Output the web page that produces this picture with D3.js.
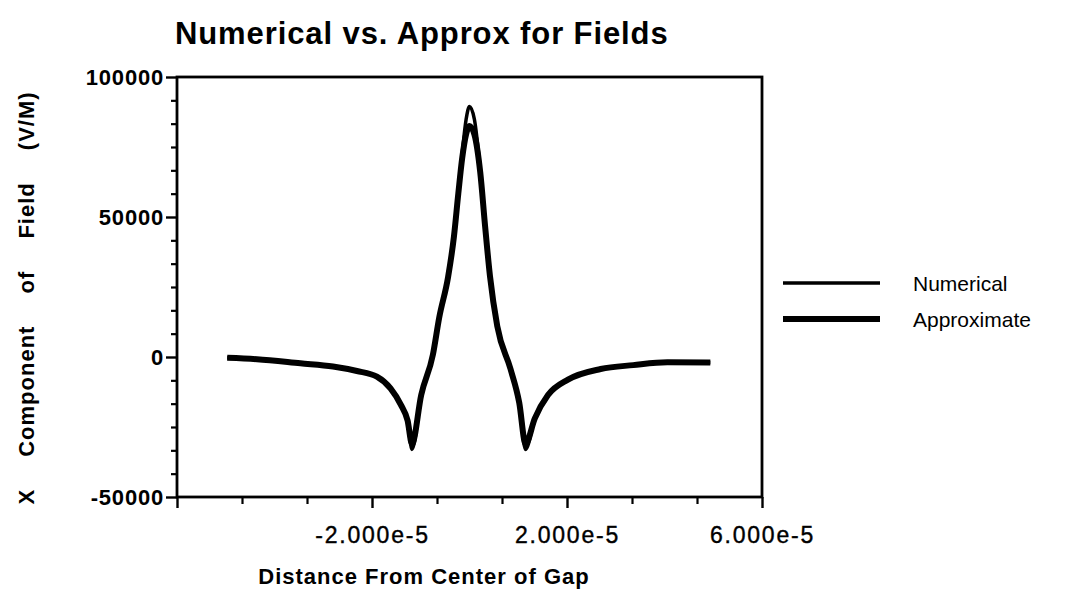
<!DOCTYPE html>
<html>
<head>
<meta charset="utf-8">
<script src="https://cdn.jsdelivr.net/npm/d3@7"></script>
<style>
  html, body { margin: 0; padding: 0; background: #fff; }
  svg { display: block; }
  text { font-family: "Liberation Sans", Arial, Helvetica, sans-serif; fill: #000; }
</style>
</head>
<body>
<svg id="chart" width="1065" height="595"></svg>
<script>
// ---- data ----
const titleText = "Numerical vs. Approx for Fields";
const xTitle = "Distance From Center of Gap";
const yTitle = "X Component of Field (V/M)";
const seriesNames = ["Numerical", "Approximate"];

const distance = [-4.97e-5, -4.36e-5, -3.47e-5, -2.8e-5, -2.31e-5, -1.9e-5, -1.62e-5, -1.41e-5,
  -1.27e-5, -1.18e-5, -0.99e-5, -0.75e-5, -0.62e-5, -0.44e-5, -0.32e-5, -0.23e-5, -0.15e-5,
  -0.07e-5, 0, 0.1e-5, 0.22e-5, 0.32e-5, 0.42e-5, 0.57e-5, 0.84e-5, 1.02e-5, 1.15e-5,
  1.34e-5, 1.61e-5, 2.02e-5, 2.69e-5, 3.36e-5, 4.06e-5, 4.94e-5];

const numerical = [-300, -800, -2250, -3400, -5000, -7000, -11200, -17000,
  -22700, -33000, -13500, 900, 14200, 28500, 42900, 58300, 72600,
  84800, 89500, 84900, 67000, 46700, 28900, 11000, -4200, -16300, -33000,
  -21900, -13600, -8100, -4300, -2900, -1900, -2000];

const approximate = [-300, -800, -2250, -3400, -5000, -7000, -11200, -17000,
  -22700, -31000, -13500, 900, 14200, 28500, 42900, 58300, 71000,
  79500, 82500, 79500, 66000, 46700, 28900, 11000, -4200, -16300, -31000,
  -21900, -13600, -8100, -4300, -2900, -1900, -2000];

const xDomain = [-6e-5, 6e-5];
const yDomain = [-50000, 100000];
const xLabelTicks = [-2e-5, 2e-5, 6e-5];
const xAllTicks = [-6e-5, -4.6667e-5, -3.3333e-5, -2e-5, -0.6667e-5, 0.6667e-5, 2e-5, 3.3333e-5, 4.6667e-5, 6e-5];
const yLabelTicks = [-50000, 0, 50000, 100000];

// ---- layout ----
const L = 177, R = 762, T = 77, B = 497;
const svg = d3.select("#chart");

const x = d3.scaleLinear().domain(xDomain).range([L, R]);
const y = d3.scaleLinear().domain(yDomain).range([B, T]);

const yMinor = d3.range(-50000, 100001, 50000 / 6).filter(v => !yLabelTicks.some(m => Math.abs(m - v) < 1));
const xMinor = xAllTicks.filter(v => !xLabelTicks.some(m => Math.abs(m - v) < 1e-9) && Math.abs(v - xDomain[0]) > 1e-9);

// frame
svg.append("rect").attr("x", L).attr("y", T).attr("width", R - L).attr("height", B - T)
  .attr("fill", "none").attr("stroke", "#000").attr("stroke-width", 2.8);

// x axis
const gx = svg.append("g").attr("transform", `translate(0,${B})`)
  .call(d3.axisBottom(x).tickValues(xLabelTicks.concat([xDomain[0]]))
    .tickSize(11).tickPadding(19)
    .tickFormat(d => Math.abs(d - xDomain[0]) < 1e-9 ? "" : d.toExponential(3)));
gx.select(".domain").remove();
gx.selectAll(".tick line").attr("stroke", "#000").attr("stroke-width", 2.4);
gx.selectAll(".tick text").attr("font-size", 23).attr("letter-spacing", 1.8).attr("fill", "#000")
  .attr("stroke", "#000").attr("stroke-width", 0.4);

const gxm = svg.append("g").attr("transform", `translate(0,${B})`)
  .call(d3.axisBottom(x).tickValues(xMinor).tickSize(7).tickFormat(""));
gxm.select(".domain").remove();
gxm.selectAll(".tick line").attr("stroke", "#000").attr("stroke-width", 2.2);

// y axis
const gy = svg.append("g").attr("transform", `translate(${L},0)`)
  .call(d3.axisLeft(y).tickValues(yLabelTicks).tickSize(11).tickPadding(2)
    .tickFormat(d => String(d)));
gy.select(".domain").remove();
gy.selectAll(".tick line").attr("stroke", "#000").attr("stroke-width", 2.4);
gy.selectAll(".tick text").attr("font-size", 22).attr("font-weight", "bold").attr("letter-spacing", 0.8).attr("fill", "#000");

const gym = svg.append("g").attr("transform", `translate(${L},0)`)
  .call(d3.axisLeft(y).tickValues(yMinor).tickSize(6).tickFormat(""));
gym.select(".domain").remove();
gym.selectAll(".tick line").attr("stroke", "#000").attr("stroke-width", 2.2);

// curves
const line = d3.line().x((d, i) => x(distance[i])).y(d => y(d)).curve(d3.curveMonotoneX);
svg.append("path").datum(approximate).attr("d", line)
  .attr("fill", "none").attr("stroke", "#000").attr("stroke-width", 6).attr("stroke-linejoin", "round");
svg.append("path").datum(numerical).attr("d", line)
  .attr("fill", "none").attr("stroke", "#000").attr("stroke-width", 3.5).attr("stroke-linejoin", "round");

// title
svg.append("text").attr("x", 175).attr("y", 44).attr("font-size", 31).attr("font-weight", "bold")
  .attr("letter-spacing", 0.9).text(titleText);

// x title
svg.append("text").attr("x", 424).attr("y", 584).attr("text-anchor", "middle")
  .attr("font-size", 22).attr("font-weight", "bold").attr("letter-spacing", 1).text(xTitle);

// y title
svg.append("text").attr("transform", "translate(34,298) rotate(-90)")
  .attr("x", 0).attr("y", 0).attr("text-anchor", "middle").attr("font-size", 22).attr("font-weight", "bold")
  .attr("letter-spacing", 1).attr("word-spacing", 25).text(yTitle);

// legend
const legendY = [283, 319];
const legendW = [3.5, 6];
seriesNames.forEach((name, i) => {
  svg.append("line").attr("x1", 783).attr("x2", 880).attr("y1", legendY[i]).attr("y2", legendY[i])
    .attr("stroke", "#000").attr("stroke-width", legendW[i]);
  svg.append("text").attr("x", 913).attr("y", legendY[i] + 8).attr("font-size", 21).text(name);
});
</script>
</body>
</html>
